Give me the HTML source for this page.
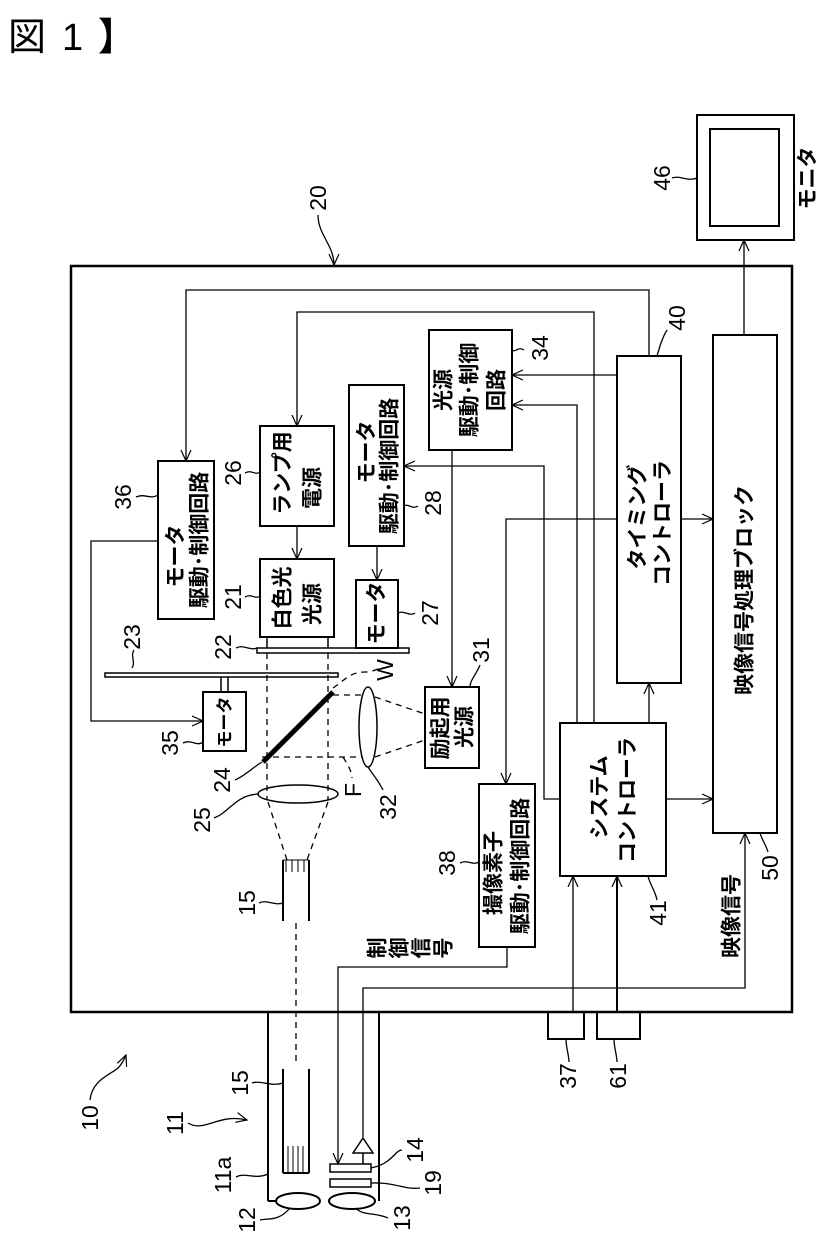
<!DOCTYPE html>
<html><head><meta charset="utf-8"><style>
html,body{margin:0;padding:0;background:#fff;}
svg{display:block;}
text{font-family:"Liberation Sans","Noto Sans CJK JP",sans-serif;fill:#000;}
.j{font-size:21px;font-weight:bold;}
.n{font-size:23px;}
</style></head><body>
<svg width="818" height="1233" viewBox="0 0 818 1233" xmlns="http://www.w3.org/2000/svg">
<defs>
<marker id="a" viewBox="0 0 12 12" refX="11" refY="6" markerWidth="12" markerHeight="12" markerUnits="userSpaceOnUse" orient="auto">
<path d="M0,1 L11,6 L0,11" fill="none" stroke="#000" stroke-width="1.2"/>
</marker>
</defs>
<text x="8" y="50" style="font-size:38px">図</text>
<text x="62" y="50" style="font-size:38px">1</text>
<text x="98" y="50" style="font-size:38px;font-weight:bold">】</text>

<g fill="none" stroke="#000" stroke-width="2">
<rect x="71" y="266" width="721" height="746" stroke-width="2.5"/>
<rect x="697" y="115" width="97" height="125"/>
<rect x="710" y="129" width="69" height="97"/>
<rect x="158" y="461" width="56" height="158"/>
<rect x="260" y="426" width="74" height="100"/>
<rect x="260" y="559" width="74" height="78"/>
<rect x="349" y="385" width="55" height="161"/>
<rect x="356" y="580" width="42" height="68"/>
<rect x="429" y="330" width="83" height="120"/>
<rect x="425" y="687" width="54" height="81"/>
<rect x="617" y="356" width="64" height="327"/>
<rect x="713" y="335" width="64" height="498"/>
<rect x="560" y="723" width="106" height="153"/>
<rect x="479" y="784" width="56" height="163"/>
<rect x="203" y="692" width="43" height="59"/>
<rect x="548" y="1012" width="36" height="27"/>
<rect x="597" y="1012" width="43" height="27"/>
<rect x="257" y="648" width="152" height="5" stroke-width="1.5"/>
<rect x="105" y="673" width="233" height="4" stroke-width="1.5"/>
<line x1="221" y1="677" x2="221" y2="692" stroke-width="1.5"/>
<line x1="228" y1="677" x2="228" y2="692" stroke-width="1.5"/>
<line x1="267" y1="637" x2="267" y2="648" stroke-width="1.5"/>
<line x1="328" y1="637" x2="328" y2="648" stroke-width="1.5"/>
<line x1="263" y1="762" x2="333" y2="692" stroke-width="5"/>
<ellipse cx="298" cy="794" rx="40" ry="9" stroke-width="1.5"/>
<ellipse cx="368" cy="727" rx="9" ry="40" stroke-width="1.5"/>
<line x1="268" y1="1012" x2="268" y2="1201"/>
<line x1="379" y1="1012" x2="379" y2="1201"/>
<line x1="268" y1="1201" x2="276" y2="1201"/>
<ellipse cx="298" cy="1201" rx="22" ry="8"/>
<ellipse cx="352" cy="1201" rx="23" ry="8"/>
<line x1="283" y1="860" x2="283" y2="921"/>
<line x1="309" y1="860" x2="309" y2="921"/>
<line x1="283" y1="1069" x2="283" y2="1173"/>
<line x1="309" y1="1069" x2="309" y2="1173"/>
<line x1="283" y1="1173" x2="309" y2="1173"/>
<rect x="330" y="1164" width="41" height="8" stroke-width="1.5"/>
<rect x="330" y="1179" width="41" height="8" stroke-width="1.5"/>
<path d="M363,1138 L373,1153 L353,1153 Z" stroke-width="1.5"/>
<line x1="363" y1="1153" x2="363" y2="1164" stroke-width="1.5"/>
</g>
<g stroke="#000" stroke-width="1">
<line x1="286" y1="860" x2="286" y2="872"/><line x1="292" y1="860" x2="292" y2="872"/><line x1="298" y1="860" x2="298" y2="872"/><line x1="304" y1="860" x2="304" y2="872"/>
<line x1="283" y1="860" x2="309" y2="860"/>
<line x1="288" y1="1146" x2="288" y2="1173"/><line x1="293" y1="1146" x2="293" y2="1173"/><line x1="298" y1="1146" x2="298" y2="1173"/><line x1="303" y1="1146" x2="303" y2="1173"/>
</g>
<g fill="none" stroke="#000" stroke-width="1.3" stroke-dasharray="6,5">
<line x1="267" y1="653" x2="267" y2="800"/>
<line x1="328" y1="653" x2="328" y2="800"/>
<line x1="262" y1="757" x2="362" y2="757"/>
<line x1="333" y1="695" x2="362" y2="695"/>
<line x1="375" y1="697" x2="425" y2="714"/>
<line x1="375" y1="757" x2="425" y2="740"/>
<line x1="268" y1="802" x2="287" y2="860"/>
<line x1="328" y1="802" x2="307" y2="860"/>
<line x1="296" y1="923" x2="296" y2="1066"/>
<path d="M333,688 C345,680 350,672 365,672 C372,672 375,670 380,668"/>
<path d="M343,757 C348,765 352,772 352,778"/>
</g>
<g fill="none" stroke="#000" stroke-width="1.3">
<path d="M649,356 V290 H186 V461" marker-end="url(#a)"/>
<path d="M594,723 V312 H297 V426" marker-end="url(#a)"/>
<path d="M297,526 V559" marker-end="url(#a)"/>
<path d="M377,546 V580" marker-end="url(#a)"/>
<path d="M560,799 H544 V466 H404" marker-end="url(#a)"/>
<path d="M617,375 H512" marker-end="url(#a)"/>
<path d="M577,723 V405 H512" marker-end="url(#a)"/>
<path d="M452,450 V687" marker-end="url(#a)"/>
<path d="M617,519 H506 V784" marker-end="url(#a)"/>
<path d="M681,519 H713" marker-end="url(#a)"/>
<path d="M649,723 V683" marker-end="url(#a)"/>
<path d="M666,799 H713" marker-end="url(#a)"/>
<path d="M744,335 V240" marker-end="url(#a)"/>
<path d="M158,541 H91 V721 H203" marker-end="url(#a)"/>
<path d="M507,947 V967 H338 V1164" marker-end="url(#a)"/>
<path d="M363,1137 V988 H745 V833" marker-end="url(#a)"/>
<path d="M573,1012 V876" marker-end="url(#a)"/>
<path d="M617,1012 V876" marker-end="url(#a)" stroke-width="2"/>
<path d="M318,215 C318,235 334,245 334,265" marker-end="url(#a)"/>
<path d="M90,1100 C92,1080 110,1075 118,1068 C122,1064 124,1060 126,1055" marker-end="url(#a)"/>
<path d="M188,1123 C205,1133 218,1113 247,1120" marker-end="url(#a)"/>
<path d="M136,497 C145,493 150,500 158,495"/>
<path d="M245,473 C252,469 255,476 260,472"/>
<path d="M245,597 C252,593 255,600 260,596"/>
<path d="M418,506 C412,510 408,503 404,506"/>
<path d="M415,613 C410,617 404,610 398,613"/>
<path d="M134,650 C130,656 136,662 132,668"/>
<path d="M236,648 C243,644 250,651 257,648"/>
<path d="M524,350 C518,346 516,353 512,350"/>
<path d="M667,330 C662,338 660,346 657,356"/>
<path d="M480,665 C476,675 470,680 470,687"/>
<path d="M183,743 C192,739 197,747 203,742"/>
<path d="M235,780 C245,776 252,768 262,762"/>
<path d="M214,818 C230,812 235,795 259,794"/>
<path d="M383,790 C378,780 373,775 368,767"/>
<path d="M259,903 C266,899 275,906 283,903"/>
<path d="M460,863 C468,859 472,866 479,862"/>
<path d="M657,900 C655,890 650,885 648,876"/>
<path d="M768,852 C766,845 762,840 760,833"/>
<path d="M569,1062 C569,1055 566,1048 566,1039"/>
<path d="M617,1062 C617,1055 614,1048 614,1039"/>
<path d="M402,1150 C395,1150 392,1164 371,1168"/>
<path d="M420,1188 C405,1190 395,1182 371,1183"/>
<path d="M388,1218 C375,1212 362,1216 356,1208"/>
<path d="M260,1220 C268,1218 278,1222 290,1208"/>
<path d="M236,1177 C245,1172 255,1180 268,1174"/>
<path d="M252,1083 C260,1080 272,1087 283,1083"/>
<path d="M672,178 C680,175 688,182 697,178"/>
</g>

<g class="j" text-anchor="middle">
<text transform="translate(176,556) rotate(-90)" dominant-baseline="central">モータ</text>
<text transform="translate(200,540) rotate(-90)" dominant-baseline="central">駆動･制御回路</text>
<text transform="translate(283,473) rotate(-90)" dominant-baseline="central">ランプ用</text>
<text transform="translate(313,488) rotate(-90)" dominant-baseline="central">電源</text>
<text transform="translate(283,598) rotate(-90)" dominant-baseline="central">白色光</text>
<text transform="translate(313,604) rotate(-90)" dominant-baseline="central">光源</text>
<text transform="translate(367,452) rotate(-90)" dominant-baseline="central">モータ</text>
<text transform="translate(390,466) rotate(-90)" dominant-baseline="central">駆動･制御回路</text>
<text transform="translate(377,613) rotate(-90)" dominant-baseline="central">モータ</text>
<text transform="translate(225,722) rotate(-90)" dominant-baseline="central" style="font-size:17px">モータ</text>
<text transform="translate(444,390) rotate(-90)" dominant-baseline="central">光源</text>
<text transform="translate(470,390) rotate(-90)" dominant-baseline="central">駆動･制御</text>
<text transform="translate(497,390) rotate(-90)" dominant-baseline="central">回路</text>
<text transform="translate(441,728) rotate(-90)" dominant-baseline="central">励起用</text>
<text transform="translate(465,727) rotate(-90)" dominant-baseline="central">光源</text>
<text transform="translate(638,517) rotate(-90)" dominant-baseline="central">タイミング</text>
<text transform="translate(663,523) rotate(-90)" dominant-baseline="central">コントローラ</text>
<text transform="translate(745,590) rotate(-90)" dominant-baseline="central">映像信号処理ブロック</text>
<text transform="translate(600,797) rotate(-90)" dominant-baseline="central">システム</text>
<text transform="translate(628,800) rotate(-90)" dominant-baseline="central">コントローラ</text>
<text transform="translate(494,873) rotate(-90)" dominant-baseline="central">撮像素子</text>
<text transform="translate(521,866) rotate(-90)" dominant-baseline="central">駆動･制御回路</text>
<text transform="translate(732,916) rotate(-90)" dominant-baseline="central">映像信号</text>
<text transform="translate(808,178) rotate(-90)" dominant-baseline="central">モニタ</text>
<text transform="translate(378,948) rotate(-90)" dominant-baseline="central">制</text>
<text transform="translate(400,948) rotate(-90)" dominant-baseline="central">御</text>
<text transform="translate(422,948) rotate(-90)" dominant-baseline="central">信</text>
<text transform="translate(444,948) rotate(-90)" dominant-baseline="central">号</text>
</g>

<g class="n" text-anchor="middle">
<text transform="translate(318,198) rotate(-90)" dominant-baseline="central">20</text>
<text transform="translate(662,178) rotate(-90)" dominant-baseline="central">46</text>
<text transform="translate(123,497) rotate(-90)" dominant-baseline="central">36</text>
<text transform="translate(233,473) rotate(-90)" dominant-baseline="central">26</text>
<text transform="translate(233,597) rotate(-90)" dominant-baseline="central">21</text>
<text transform="translate(433,503) rotate(-90)" dominant-baseline="central">28</text>
<text transform="translate(430,613) rotate(-90)" dominant-baseline="central">27</text>
<text transform="translate(132,637) rotate(-90)" dominant-baseline="central">23</text>
<text transform="translate(223,647) rotate(-90)" dominant-baseline="central">22</text>
<text transform="translate(540,348) rotate(-90)" dominant-baseline="central">34</text>
<text transform="translate(677,318) rotate(-90)" dominant-baseline="central">40</text>
<text transform="translate(481,650) rotate(-90)" dominant-baseline="central">31</text>
<text transform="translate(385,670) rotate(-90)" dominant-baseline="central">W</text>
<text transform="translate(170,743) rotate(-90)" dominant-baseline="central">35</text>
<text transform="translate(222,780) rotate(-90)" dominant-baseline="central">24</text>
<text transform="translate(202,820) rotate(-90)" dominant-baseline="central">25</text>
<text transform="translate(353,790) rotate(-90)" dominant-baseline="central">F</text>
<text transform="translate(388,807) rotate(-90)" dominant-baseline="central">32</text>
<text transform="translate(247,903) rotate(-90)" dominant-baseline="central">15</text>
<text transform="translate(447,863) rotate(-90)" dominant-baseline="central">38</text>
<text transform="translate(658,913) rotate(-90)" dominant-baseline="central">41</text>
<text transform="translate(770,868) rotate(-90)" dominant-baseline="central">50</text>
<text transform="translate(568,1076) rotate(-90)" dominant-baseline="central">37</text>
<text transform="translate(618,1076) rotate(-90)" dominant-baseline="central">61</text>
<text transform="translate(415,1150) rotate(-90)" dominant-baseline="central">14</text>
<text transform="translate(433,1183) rotate(-90)" dominant-baseline="central">19</text>
<text transform="translate(402,1218) rotate(-90)" dominant-baseline="central">13</text>
<text transform="translate(247,1220) rotate(-90)" dominant-baseline="central">12</text>
<text transform="translate(223,1175) rotate(-90)" dominant-baseline="central">11a</text>
<text transform="translate(175,1123) rotate(-90)" dominant-baseline="central">11</text>
<text transform="translate(240,1083) rotate(-90)" dominant-baseline="central">15</text>
<text transform="translate(90,1118) rotate(-90)" dominant-baseline="central">10</text>
</g>
</svg>
</body></html>
